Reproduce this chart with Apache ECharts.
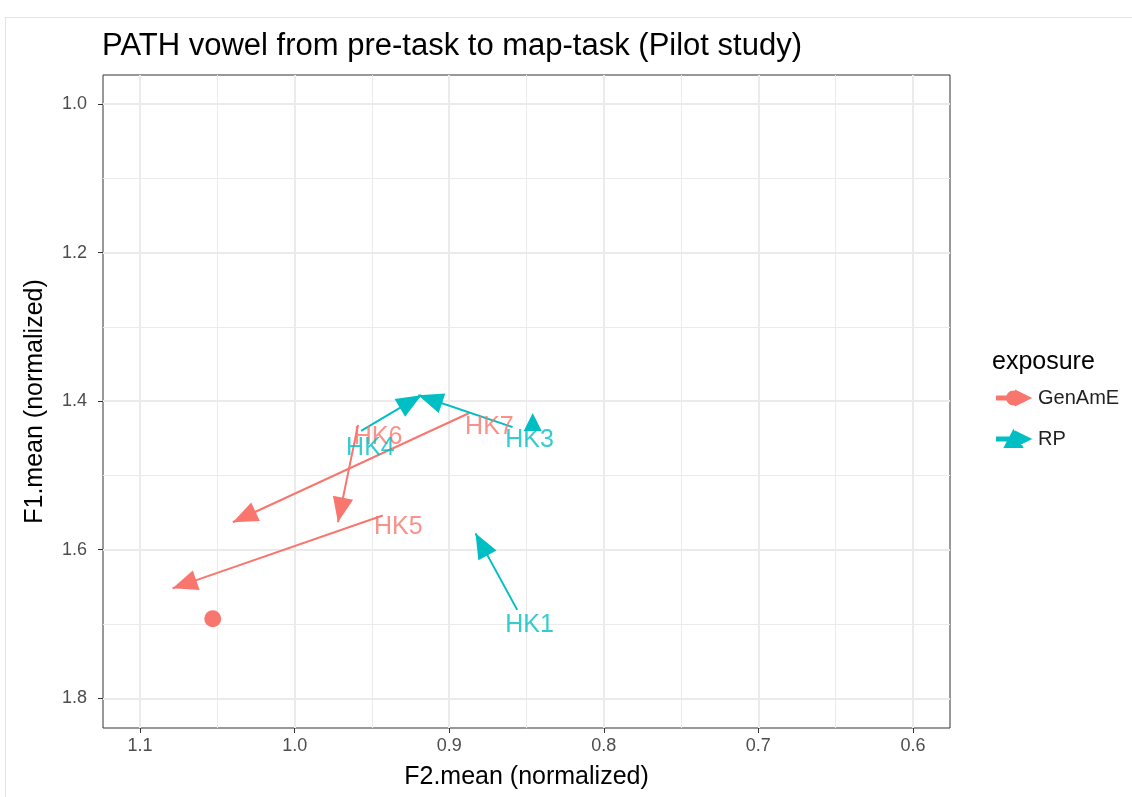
<!DOCTYPE html>
<html>
<head>
<meta charset="utf-8">
<script src="https://cdn.jsdelivr.net/npm/echarts@6/dist/echarts.min.js"></script>
<style>
html,body{margin:0;padding:0;background:#fff;overflow:hidden;}
#frame{position:absolute;left:5px;top:17px;width:1127px;height:780px;border-top:1px solid #e3e3e3;border-left:1px solid #e3e3e3;box-sizing:border-box;}
#chart{position:absolute;left:0;top:0;width:1132px;height:797px;}
</style>
</head>
<body>
<div id="frame"></div>
<div id="chart"></div>
<script>
// ---- data ----
const xTicks = [0.6, 0.7, 0.8, 0.9, 1.0, 1.1];
const xMinor = [0.65, 0.75, 0.85, 0.95, 1.05];
const yTicks = [1.0, 1.2, 1.4, 1.6, 1.8];
const yMinor = [1.1, 1.3, 1.5, 1.7];

const genIds  = ['HK7', 'HK6', 'HK5'];
const genPreX = [0.887, 0.959, 0.943];
const genPreY = [1.416, 1.432, 1.554];
const genMapX = [1.040, 0.972, 1.079];
const genMapY = [1.563, 1.563, 1.652];
const genLabX = [0.874, 0.946, 0.933];
const genLabY = [1.435, 1.448, 1.570];
const genPointX = [1.053];
const genPointY = [1.693];

const rpIds  = ['HK4', 'HK3', 'HK1'];
const rpPreX = [0.957, 0.859, 0.856];
const rpPreY = [1.440, 1.435, 1.681];
const rpMapX = [0.918, 0.920, 0.883];
const rpMapY = [1.392, 1.392, 1.578];
const rpLabX = [0.951, 0.848, 0.848];
const rpLabY = [1.463, 1.453, 1.702];
const rpPointX = [0.846];
const rpPointY = [1.428];

const RED = '#F8766D', CYAN = '#00BFC4';
const FONT = 'Liberation Sans, Arial, sans-serif';

function segs(px, py, mx, my) {
  return px.map((v, i) => ({ coords: [[px[i], py[i]], [mx[i], my[i]]] }));
}
function pts(xs, ys) { return xs.map((v, i) => [xs[i], ys[i]]); }
function labs(xs, ys, ids) { return xs.map((v, i) => ({ value: [xs[i], ys[i]], name: ids[i] })); }

const chart = echarts.init(document.getElementById('chart'), null, { renderer: 'canvas' });

// arrow head whose tip sits at the symbol centre
const ARROW = 'path://M0,0 L0.01,0 M40,0 L40.01,0 M0,40 L0.01,40 M20,20 L28.25,40 L11.75,40 Z';
const iconGen = 'path://M0,8.5 L19,8.5 L19,3 L33,10 L19,17 L19,11.5 L0,11.5 Z M10,10 A6.5,6.5 0 1,1 23,10 A6.5,6.5 0 1,1 10,10 Z M0,0 L0.01,0 M0,20 L0.01,20';
const iconRP  = 'path://M0,8.5 L19,8.5 L19,3 L33,10 L19,17 L19,11.5 L0,11.5 Z M16.5,2 L25,18 L8,18 Z M0,0 L0.01,0 M0,20 L0.01,20';

const option = {
  animation: false,
  backgroundColor: 'transparent',
  title: [
    { text: 'PATH vowel from pre-task to map-task (Pilot study)', left: 97, top: 26,
      textStyle: { fontFamily: FONT, fontSize: 31, fontWeight: 'normal', color: '#000' } },
    { text: 'exposure', left: 987, top: 345,
      textStyle: { fontFamily: FONT, fontSize: 25, fontWeight: 'normal', color: '#000' } }
  ],
  legend: {
    left: 996, top: 387, orient: 'vertical', itemWidth: 33, itemHeight: 20, itemGap: 19, padding: 0,
    textStyle: { fontFamily: FONT, fontSize: 20, color: '#222', padding: [0, 0, 0, 3] },
    data: [ { name: 'GenAmE', icon: iconGen, itemStyle: { color: RED } },
            { name: 'RP', icon: iconRP, itemStyle: { color: CYAN } } ],
    selectedMode: false
  },
  grid: { left: 103, top: 75, width: 847, height: 653, outerBoundsMode: 'none', containLabel: false,
          show: true, borderColor: '#333', borderWidth: 1, backgroundColor: 'transparent' },
  xAxis: {
    type: 'value', min: 0.576, max: 1.124, inverse: true,
    name: 'F2.mean (normalized)', nameLocation: 'middle', nameGap: 37,
    nameTextStyle: { fontFamily: FONT, fontSize: 25, color: '#000' },
    axisLine: { show: false },
    axisTick: { show: true, customValues: xTicks, length: 5, lineStyle: { color: '#333', width: 1 } },
    axisLabel: { customValues: xTicks, formatter: v => v.toFixed(1), fontFamily: FONT, fontSize: 18, color: '#4D4D4D', margin: 9 },
    splitLine: { show: true, lineStyle: { color: '#EBEBEB', width: 2 } }
  },
  yAxis: {
    type: 'value', min: 0.961, max: 1.84, inverse: true,
    name: 'F1.mean (normalized)', nameLocation: 'middle', nameGap: 55, nameRotate: 90,
    nameTextStyle: { fontFamily: FONT, fontSize: 25, color: '#000' },
    axisLine: { show: false },
    axisTick: { show: true, customValues: yTicks, length: 5, lineStyle: { color: '#333', width: 1 } },
    axisLabel: { customValues: yTicks, formatter: v => v.toFixed(1), fontFamily: FONT, fontSize: 18, color: '#4D4D4D', margin: 16 },
    splitLine: { show: true, lineStyle: { color: '#EBEBEB', width: 2 } }
  },
  series: [
    { type: 'scatter', name: 'minorgrid', data: [], z: 1, silent: true,
      markLine: { silent: true, z: 1, symbol: 'none', animation: false, label: { show: false },
        lineStyle: { color: '#EBEBEB', width: 1, type: 'solid' },
        emphasis: { disabled: true },
        data: xMinor.map(v => ({ xAxis: v })).concat(yMinor.map(v => ({ yAxis: v }))) } },
    { type: 'lines', name: 'GenAmE', coordinateSystem: 'cartesian2d', z: 3,
      symbol: ['none', ARROW], symbolSize: 50,
      lineStyle: { color: RED, width: 2, opacity: 1, curveness: 0 },
      itemStyle: { color: RED },
      data: segs(genPreX, genPreY, genMapX, genMapY) },
    { type: 'lines', name: 'RP', coordinateSystem: 'cartesian2d', z: 3,
      symbol: ['none', ARROW], symbolSize: 50,
      lineStyle: { color: CYAN, width: 2, opacity: 1, curveness: 0 },
      itemStyle: { color: CYAN },
      data: segs(rpPreX, rpPreY, rpMapX, rpMapY) },
    { type: 'scatter', name: 'GenAmE', symbol: 'circle', symbolSize: 17, z: 3,
      itemStyle: { color: RED, opacity: 1 }, data: pts(genPointX, genPointY) },
    { type: 'scatter', name: 'RP', symbol: 'triangle', symbolSize: [18, 18], z: 3,
      itemStyle: { color: CYAN, opacity: 1 }, data: pts(rpPointX, rpPointY) },
    { type: 'scatter', name: 'GenAmE', symbolSize: 1, z: 4,
      itemStyle: { color: 'rgba(0,0,0,0)' },
      label: { show: true, position: 'inside', formatter: p => p.name, fontFamily: FONT, fontSize: 25, color: RED },
      data: labs(genLabX, genLabY, genIds) },
    { type: 'scatter', name: 'RP', symbolSize: 1, z: 4,
      itemStyle: { color: 'rgba(0,0,0,0)' },
      label: { show: true, position: 'inside', formatter: p => p.name, fontFamily: FONT, fontSize: 25, color: CYAN },
      data: labs(rpLabX, rpLabY, rpIds) }
  ]
};
chart.setOption(option);
</script>
</body>
</html>
